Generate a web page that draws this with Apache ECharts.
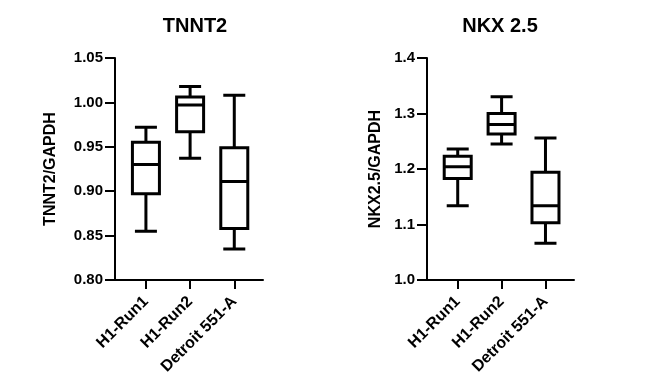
<!DOCTYPE html>
<html>
<head>
<meta charset="utf-8">
<script src="https://cdn.jsdelivr.net/npm/echarts@6/dist/echarts.min.js"></script>
<style>
html,body{margin:0;padding:0;background:#fff;}
#chart{width:650px;height:389px;}
</style>
</head>
<body>
<div id="chart"></div>
<script>
// Categories
const categories = ['H1-Run1', 'H1-Run2', 'Detroit 551-A'];
const categoryPositions = [0, 1, 2];

// TNNT2/GAPDH: [min, Q1, median, Q3, max]
const tnnt2Run1 = [0.855, 0.897, 0.930, 0.955, 0.972];
const tnnt2Run2 = [0.937, 0.967, 0.997, 1.006, 1.018];
const tnnt2Detroit = [0.835, 0.858, 0.911, 0.949, 1.008];

// NKX2.5/GAPDH: [min, Q1, median, Q3, max]
const nkxRun1 = [1.134, 1.183, 1.204, 1.223, 1.236];
const nkxRun2 = [1.245, 1.263, 1.280, 1.300, 1.330];
const nkxDetroit = [1.066, 1.103, 1.134, 1.194, 1.256];

// Tick labels
const tnnt2Ticks = ['0.80', '0.85', '0.90', '0.95', '1.00', '1.05'];
const nkxTicks = ['1.0', '1.1', '1.2', '1.3', '1.4'];

const FONT = '"Liberation Sans", Arial, Helvetica, sans-serif';

// whiskers (narrower caps) : min .. max, box collapsed to the median
function whiskerRows(rows) {
  return rows.map((r, i) => [categoryPositions[i], r[0], r[2], r[2], r[2], r[4]]);
}
// boxes : Q1 .. Q3 with the median line
function boxRows(rows) {
  return rows.map((r, i) => [categoryPositions[i], r[1], r[1], r[2], r[3], r[3]]);
}

function xAxisCfg(gridIndex) {
  return {
    type: 'value', gridIndex: gridIndex, min: -0.7, max: 2.65,
    splitLine: { show: false },
    axisLine: { show: true, onZero: false, lineStyle: { color: '#000', width: 2 } },
    axisTick: { show: true, length: 9, customValues: categoryPositions, lineStyle: { color: '#000', width: 2 } },
    axisLabel: {
      customValues: categoryPositions,
      formatter: v => categories[Math.round(v)],
      rotate: 45, margin: 19, color: '#000', fontWeight: 'bold', fontSize: 16, fontFamily: FONT
    }
  };
}
// hidden twin axis so that the whisker series is not dodged beside the box series
function hiddenXAxisCfg(gridIndex) {
  return { type: 'value', gridIndex: gridIndex, min: -0.7, max: 2.65, show: false, splitLine: { show: false } };
}

function yAxisCfg(gridIndex, min, max, interval, ticks, name, nameGap) {
  return {
    type: 'value', gridIndex: gridIndex, min: min, max: max, interval: interval,
    name: name, nameLocation: 'middle', nameGap: nameGap,
    nameTextStyle: { color: '#000', fontWeight: 'bold', fontSize: 16, fontFamily: FONT },
    splitLine: { show: false },
    axisLine: { show: true, onZero: false, lineStyle: { color: '#000', width: 2 } },
    axisTick: { show: true, length: 10, lineStyle: { color: '#000', width: 2 } },
    axisLabel: {
      margin: 12, color: '#000', fontWeight: 'bold', fontSize: 15, fontFamily: FONT,
      formatter: v => ticks[Math.round((v - min) / interval)]
    }
  };
}

const boxStyle = { color: '#fff', borderColor: '#000', borderWidth: 3 };

const tnnt2Rows = [tnnt2Run1, tnnt2Run2, tnnt2Detroit];
const nkxRows = [nkxRun1, nkxRun2, nkxDetroit];

const chart = echarts.init(document.getElementById('chart'), null, { renderer: 'canvas' });
chart.setOption({
  backgroundColor: '#fff',
  animation: false,
  title: [
    { text: 'TNNT2', left: 190, top: 11, textAlign: 'center',
      textStyle: { color: '#000', fontWeight: 'bold', fontSize: 20, fontFamily: FONT } },
    { text: 'NKX 2.5', left: 495, top: 11, textAlign: 'center',
      textStyle: { color: '#000', fontWeight: 'bold', fontSize: 20, fontFamily: FONT } }
  ],
  grid: [
    { left: 115, top: 58, width: 148, height: 222 },
    { left: 427, top: 58, width: 147, height: 222 }
  ],
  xAxis: [xAxisCfg(0), xAxisCfg(1), hiddenXAxisCfg(0), hiddenXAxisCfg(1)],
  yAxis: [
    yAxisCfg(0, 0.8, 1.05, 0.05, tnnt2Ticks, 'TNNT2/GAPDH', 56),
    yAxisCfg(1, 1.0, 1.4, 0.1, nkxTicks, 'NKX2.5/GAPDH', 43)
  ],
  series: [
    { type: 'boxplot', name: 'TNNT2 whiskers', xAxisIndex: 2, yAxisIndex: 0, boxWidth: [22, 22], itemStyle: boxStyle,
      data: whiskerRows(tnnt2Rows) },
    { type: 'boxplot', name: 'TNNT2', xAxisIndex: 0, yAxisIndex: 0, boxWidth: [27, 27], itemStyle: boxStyle,
      data: boxRows(tnnt2Rows) },
    { type: 'boxplot', name: 'NKX whiskers', xAxisIndex: 3, yAxisIndex: 1, boxWidth: [22, 22], itemStyle: boxStyle,
      data: whiskerRows(nkxRows) },
    { type: 'boxplot', name: 'NKX 2.5', xAxisIndex: 1, yAxisIndex: 1, boxWidth: [27, 27], itemStyle: boxStyle,
      data: boxRows(nkxRows) }
  ]
});
</script>
</body>
</html>
